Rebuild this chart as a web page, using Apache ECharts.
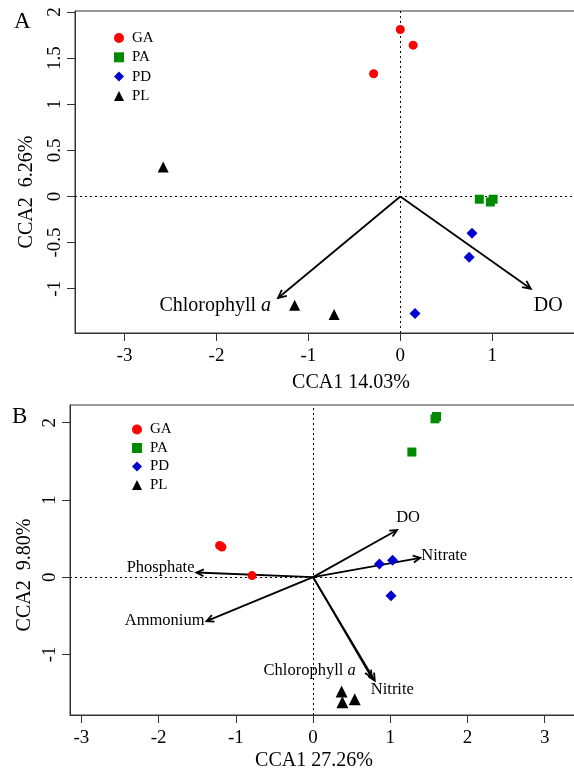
<!DOCTYPE html>
<html>
<head>
<meta charset="utf-8">
<script src="https://cdn.jsdelivr.net/npm/echarts@6/dist/echarts.min.js"></script>
<style>
html,body{margin:0;padding:0;background:#fff;}
#c{width:574px;height:771px;}
</style>
</head>
<body>
<div id="c"></div>
<script>
// ---------- DATA ----------
const groups = ['GA', 'PA', 'PD', 'PL'];

// Panel A sample scores
const A_GA_x = [0.00, 0.14, -0.29];
const A_GA_y = [1.81, 1.64, 1.33];
const A_PA_x = [0.86, 0.98, 1.01];
const A_PA_y = [-0.03, -0.06, -0.03];
const A_PD_x = [0.78, 0.75, 0.16];
const A_PD_y = [-0.40, -0.66, -1.27];
const A_PL_x = [-2.58, -1.15, -0.72];
const A_PL_y = [0.32, -1.18, -1.28];

// Panel A environmental vectors
const A_env_names = ['Chlorophyll a', 'DO'];
const A_env_x = [-1.33, 1.42];
const A_env_y = [-1.10, -1.00];

// Panel B sample scores
const B_GA_x = [-1.21, -1.18, -0.79];
const B_GA_y = [0.41, 0.39, 0.02];
const B_PA_x = [1.58, 1.60, 1.28];
const B_PA_y = [2.05, 2.08, 1.62];
const B_PD_x = [0.86, 1.03, 1.01];
const B_PD_y = [0.17, 0.22, -0.24];
const B_PL_x = [0.37, 0.38, 0.54];
const B_PL_y = [-1.48, -1.62, -1.58];

// Panel B environmental vectors
const B_env_names = ['DO', 'Nitrate', 'Phosphate', 'Ammonium', 'Chlorophyll a', 'Nitrite'];
const B_env_x = [1.09, 1.39, -1.51, -1.38, 0.76, 0.80];
const B_env_y = [0.61, 0.25, 0.06, -0.57, -1.30, -1.34];

// Tick labels
const A_xticks = [-3, -2, -1, 0, 1];
const A_yticks = [-1, -0.5, 0, 0.5, 1, 1.5, 2];
const B_xticks = [-3, -2, -1, 0, 1, 2, 3];
const B_yticks = [-1, 0, 1, 2];

const A_xtitle = 'CCA1 14.03%';
const A_ytitle = 'CCA2  6.26%';
const B_xtitle = 'CCA1 27.26%';
const B_ytitle = 'CCA2  9.80%';

// ---------- STYLE ----------
const FONT = 'Liberation Serif';
const colors = {GA: '#ff0000', PA: '#008a00', PD: '#0000d0', PL: '#000000'};
const symbols = {GA: 'circle', PA: 'rect', PD: 'diamond', PL: 'triangle'};
const symSizeA = {GA: 9, PA: 9, PD: 11, PL: 11};
const symSizeB = {GA: 9, PA: 9, PD: 11, PL: 12};

const labelPosA = {
  'Chlorophyll a': {align: 'right', dx: -7, dy: 8},
  'DO': {align: 'left', dx: 3, dy: 17}
};
const labelPosB = {
  'DO': {align: 'left', dx: -1, dy: -12},
  'Nitrate': {align: 'left', dx: 1, dy: -2},
  'Phosphate': {align: 'right', dx: -2, dy: -5},
  'Ammonium': {align: 'right', dx: -2, dy: 0},
  'Chlorophyll a': {align: 'right', dx: -16, dy: -7},
  'Nitrite': {align: 'left', dx: -4, dy: 9}
};

const zip = (xs, ys) => xs.map((v, i) => [v, ys[i]]);
const dataA = {GA: zip(A_GA_x, A_GA_y), PA: zip(A_PA_x, A_PA_y), PD: zip(A_PD_x, A_PD_y), PL: zip(A_PL_x, A_PL_y)};
const dataB = {GA: zip(B_GA_x, B_GA_y), PA: zip(B_PA_x, B_PA_y), PD: zip(B_PD_x, B_PD_y), PL: zip(B_PL_x, B_PL_y)};

function arrowSeries(idx, names, xs, ys, pos, fontSize, headLen) {
  return {
    type: 'custom',
    xAxisIndex: idx, yAxisIndex: idx,
    clip: false, silent: true, z: 5,
    data: xs.map((v, i) => [v, ys[i]]),
    encode: {x: 0, y: 1},
    renderItem: function (params, api) {
      const x = api.value(0), y = api.value(1);
      const o = api.coord([0, 0]);
      const t = api.coord([x, y]);
      const ang = Math.atan2(t[1] - o[1], t[0] - o[0]);
      const a = Math.PI / 7;
      const h1 = [t[0] - headLen * Math.cos(ang - a), t[1] - headLen * Math.sin(ang - a)];
      const h2 = [t[0] - headLen * Math.cos(ang + a), t[1] - headLen * Math.sin(ang + a)];
      const name = names[params.dataIndex];
      const p = pos[name];
      const txt = name === 'Chlorophyll a' ? 'Chlorophyll {i|a}' : name;
      return {
        type: 'group',
        children: [
          {type: 'line', shape: {x1: o[0], y1: o[1], x2: t[0], y2: t[1]}, style: {stroke: '#000', lineWidth: 1.8}},
          {type: 'polyline', shape: {points: [h1, t, h2]}, style: {stroke: '#000', lineWidth: 1.8, fill: null}},
          {type: 'text', x: t[0] + p.dx, y: t[1] + p.dy,
            style: {text: txt, fill: '#000', fontSize: fontSize, fontFamily: FONT,
              align: p.align, verticalAlign: 'middle',
              rich: {i: {fontStyle: 'italic', fontSize: fontSize, fontFamily: FONT, fill: '#000'}}}}
        ]
      };
    }
  };
}

function scatterSeries(idx, data, sizes, withRefLines) {
  return groups.map((g) => {
    const s = {
      name: g, type: 'scatter',
      xAxisIndex: idx, yAxisIndex: idx,
      symbol: symbols[g], symbolSize: sizes[g],
      itemStyle: {color: colors[g], opacity: 1},
      data: data[g], z: 6, silent: true
    };
    if (withRefLines && g === 'GA') {
      s.markLine = {
        silent: true, symbol: 'none', animation: false,
        label: {show: false},
        lineStyle: {color: '#000', type: [2, 3], width: 1},
        data: [{xAxis: 0}, {yAxis: 0}]
      };
    }
    return s;
  });
}

function xAxis(idx, min, max, ticks) {
  return {
    gridIndex: idx, type: 'value', min: min, max: max,
    axisLine: {show: true, onZero: false, lineStyle: {color: '#333', width: 1}},
    axisTick: {show: true, length: 8, customValues: ticks, lineStyle: {color: '#333'}},
    axisLabel: {show: true, customValues: ticks, margin: 14, color: '#000', fontSize: 19, fontFamily: FONT},
    splitLine: {show: false}
  };
}
function yAxis(idx, min, max, ticks) {
  return {
    gridIndex: idx, type: 'value', min: min, max: max,
    axisLine: {show: true, onZero: false, lineStyle: {color: '#333', width: 1}},
    axisTick: {show: true, length: 8, customValues: ticks, lineStyle: {color: '#333'}},
    axisLabel: {show: true, customValues: ticks, rotate: 90, margin: 10, color: '#000', fontSize: 19, fontFamily: FONT},
    splitLine: {show: false}
  };
}

function legend(left, top, gap) {
  return {
    data: groups.map(g => ({name: g, icon: symbols[g]})),
    orient: 'vertical', left: left, top: top, padding: 0,
    itemWidth: 10, itemHeight: 10, itemGap: gap,
    selectedMode: false,
    textStyle: {fontSize: 15, fontFamily: FONT, color: '#000', lineHeight: 15, padding: [0, 0, 0, 3]}
  };
}

const option = {
  animation: false,
  backgroundColor: '#fff',
  grid: [
    {left: 75, top: 11, width: 510, height: 322, show: true, borderColor: '#333', borderWidth: 1,
     backgroundColor: 'transparent', outerBoundsMode: 'none', containLabel: false},
    {left: 70, top: 405, width: 512, height: 310, show: true, borderColor: '#333', borderWidth: 1,
     backgroundColor: 'transparent', outerBoundsMode: 'none', containLabel: false}
  ],
  xAxis: [xAxis(0, -3.54, 2.01, A_xticks), xAxis(1, -3.148, 3.484, B_xticks)],
  yAxis: [yAxis(0, -1.48, 2.01, A_yticks), yAxis(1, -1.785, 2.229, B_yticks)],
  legend: [legend(114, 30.5, 4.3), legend(132, 422, 3.5)],
  graphic: [
    {type: 'text', x: 14, y: 10, style: {text: 'A', fontSize: 23, fontFamily: FONT, fill: '#000'}},
    {type: 'text', x: 12, y: 405, style: {text: 'B', fontSize: 23, fontFamily: FONT, fill: '#000'}},
    {type: 'text', x: 351, y: 383, style: {text: A_xtitle, fontSize: 20, fontFamily: FONT, fill: '#000', align: 'center', verticalAlign: 'middle'}},
    {type: 'text', x: 314, y: 761, style: {text: B_xtitle, fontSize: 20, fontFamily: FONT, fill: '#000', align: 'center', verticalAlign: 'middle'}},
    {type: 'text', x: 27, y: 192, rotation: Math.PI / 2, style: {text: A_ytitle, fontSize: 20, fontFamily: FONT, fill: '#000', align: 'center', verticalAlign: 'middle'}},
    {type: 'text', x: 25, y: 575, rotation: Math.PI / 2, style: {text: B_ytitle, fontSize: 20, fontFamily: FONT, fill: '#000', align: 'center', verticalAlign: 'middle'}}
  ],
  series: [
    ...scatterSeries(0, dataA, symSizeA, true),
    ...scatterSeries(1, dataB, symSizeB, true),
    arrowSeries(0, A_env_names, A_env_x, A_env_y, labelPosA, 20, 9),
    arrowSeries(1, B_env_names, B_env_x, B_env_y, labelPosB, 16.5, 8)
  ]
};

const chart = echarts.init(document.getElementById('c'), null, {renderer: 'canvas'});
chart.setOption(option);
</script>
</body>
</html>
